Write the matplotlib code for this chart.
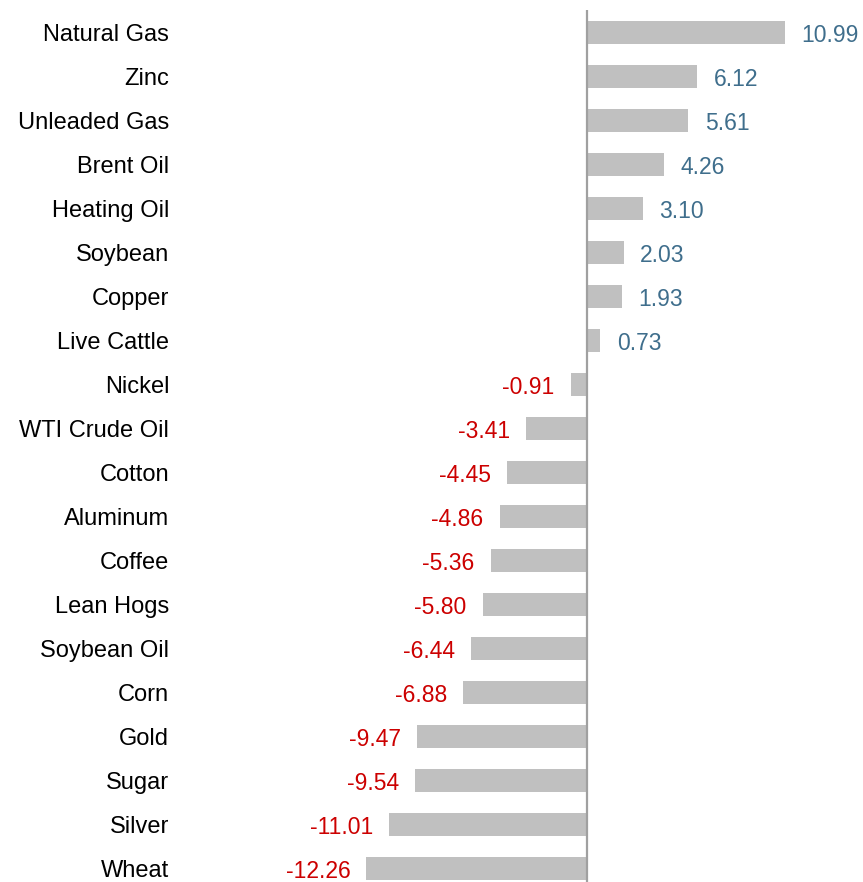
import matplotlib.pyplot as plt

plt.rcParams['font.family'] = ['Liberation Sans', 'DejaVu Sans']

commodities = ['Natural Gas', 'Zinc', 'Unleaded Gas', 'Brent Oil', 'Heating Oil',
               'Soybean', 'Copper', 'Live Cattle', 'Nickel', 'WTI Crude Oil',
               'Cotton', 'Aluminum', 'Coffee', 'Lean Hogs', 'Soybean Oil',
               'Corn', 'Gold', 'Sugar', 'Silver', 'Wheat']
returns = [10.99, 6.12, 5.61, 4.26, 3.10, 2.03, 1.93, 0.73, -0.91, -3.41,
           -4.45, -4.86, -5.36, -5.80, -6.44, -6.88, -9.47, -9.54, -11.01, -12.26]

pos_color = '#3F6E8C'
neg_color = '#CC0000'

fig = plt.figure(figsize=(8.63, 8.82), dpi=100)
ax = fig.add_axes([180 / 863, 0, 1 - 180 / 863, 1 - 10 / 882])

ypos = list(range(len(commodities)))
ax.barh(ypos, returns, height=0.52, color='#C0C0C0', zorder=2)
ax.axvline(0, color='#A0A0A0', lw=1.6, zorder=3)

for y, v in zip(ypos, returns):
    if v >= 0:
        ax.annotate(f'{v:.2f}', (v, y), xytext=(12, 0), textcoords='offset points',
                    ha='left', va='center_baseline', color=pos_color, fontsize=16.5)
    else:
        ax.annotate(f'{v:.2f}', (v, y), xytext=(-11.5, 0), textcoords='offset points',
                    ha='right', va='center_baseline', color=neg_color, fontsize=16.5)

ax.set_yticks(ypos)
ax.set_yticklabels(commodities, fontsize=17)
ax.tick_params(axis='y', length=0, pad=7.8)
ax.set_xticks([])
ax.set_ylim(len(commodities) - 1 + 0.3, -0.52)
x0_px = 587 - 180
scale = 18.0
ax.set_xlim(-x0_px / scale, (863 - 587) / scale)
for s in ax.spines.values():
    s.set_visible(False)

fig.savefig('out.png', dpi=100)
